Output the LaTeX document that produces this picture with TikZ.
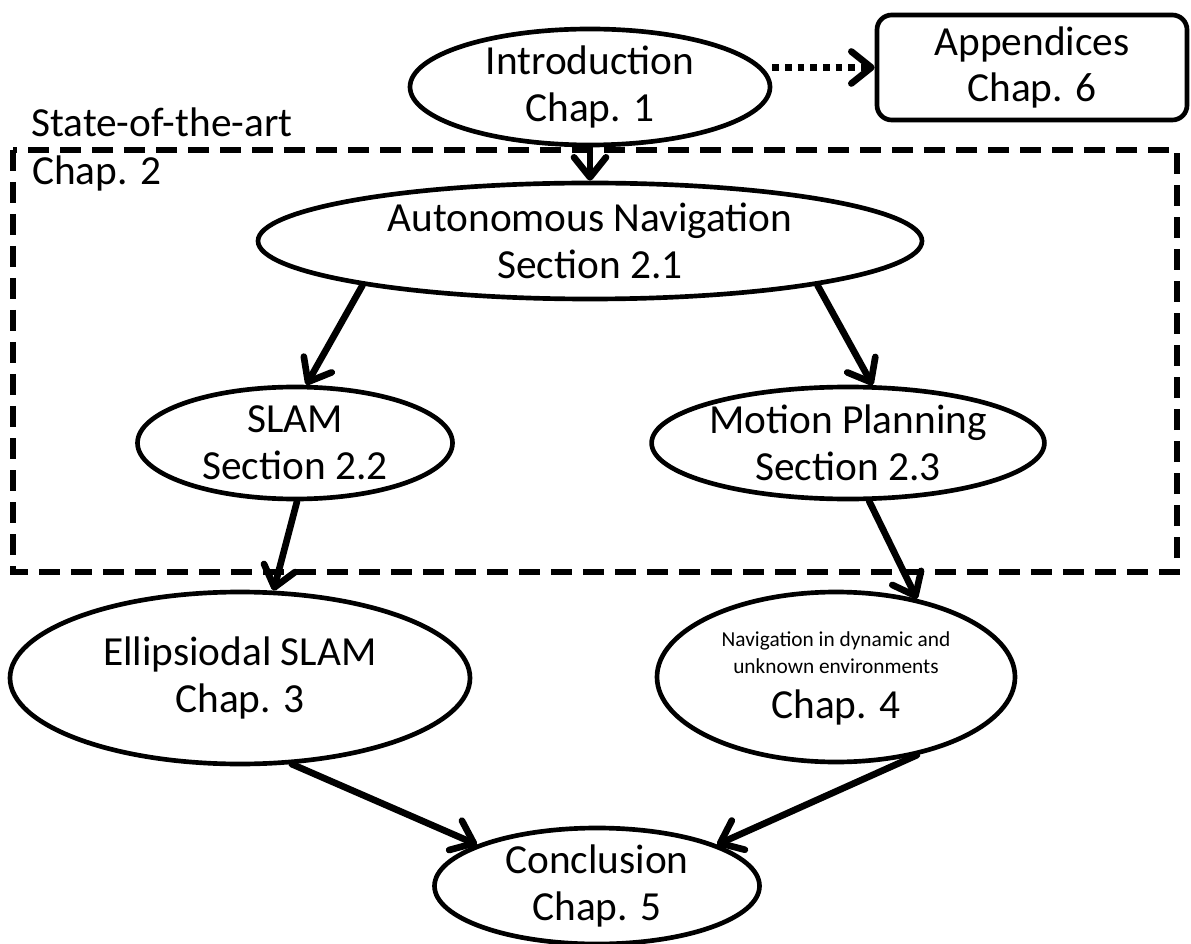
\documentclass[tikz,border=0pt]{standalone}
\usepackage{fontspec}
\setmainfont{Carlito}
\usetikzlibrary{shapes.geometric,arrows.meta}

\begin{document}
\begin{tikzpicture}[x=0.75pt,y=-0.75pt,
  every node/.style={font=\fontsize{31}{35}\selectfont, align=center},
  oval/.style={ellipse, draw, line width=3.5pt, inner sep=0pt},
  roundbox/.style={rectangle, draw, line width=3.5pt, rounded corners=11pt, inner sep=0pt},
  framebox/.style={line width=4.5pt, dash pattern=on 16pt off 8pt},
  link/.style={line width=5pt, line cap=round, -{Straight Barb[length=15pt,width=24pt,round]}},
  dotlink/.style={line width=5pt, dash pattern=on 5pt off 4.5pt, -{Straight Barb[length=15pt,width=24pt,round]}},
  plain/.style={inner sep=0pt, align=left}]
\useasboundingbox (0,0) rectangle (1191,944);

% chapter / section bubbles
\node[oval, minimum width=270pt, minimum height=75pt] (intro) at (590,87) {Introduction\\Chap. 1};
\node[roundbox, minimum width=232.5pt, minimum height=78.75pt] (app) at (1032,67.5) {Appendices\\Chap. 6};
\node[oval, minimum width=498pt, minimum height=87pt] (auto) at (590,241) {Autonomous Navigation\\Section 2.1};
\node[oval, minimum width=236.25pt, minimum height=84pt] (slam) at (295,443) {SLAM\\Section 2.2};
\node[oval, minimum width=270pt, minimum height=84pt] (motion) at (848,443) {Motion Planning\\Section 2.3};
\node[oval, minimum width=345pt, minimum height=129pt] (ellip) at (240,678) {Ellipsiodal SLAM\\Chap. 3};
\node[oval, minimum width=268.5pt, minimum height=127.5pt] (nav) at (836,677)
  {\fontsize{16}{20}\selectfont\begin{tabular}{@{}c@{}}Navigation in dynamic and\\unknown environments\\[6pt]\fontsize{31}{36}\selectfont Chap. 4\end{tabular}};
\node[oval, minimum width=243.75pt, minimum height=86.25pt] (concl) at (597,886) {Conclusion\\Chap. 5};

% state-of-the-art frame
\draw[framebox] (13,150) rectangle (1177,572);
\node[plain, anchor=base west] (sota) at (31,137) {State-of-the-art};
\node[plain, anchor=base west] (chap2) at (32,185) {Chap. 2};

% reading order
\draw[dotlink] (intro.east |- app.west) -- (app.west);
\draw[link] (intro.south) -- (auto.north);
\draw[link] (auto.191) -- (slam.79);
\draw[link] (auto.349) -- (motion.67);
\draw[link] (slam.272) -- (ellip.69);
\draw[link] (motion.290) -- (nav.44);
\draw[link] (ellip.301) -- (concl.161);
\draw[link] (nav.316) -- (concl.19);
\end{tikzpicture}
\end{document}
